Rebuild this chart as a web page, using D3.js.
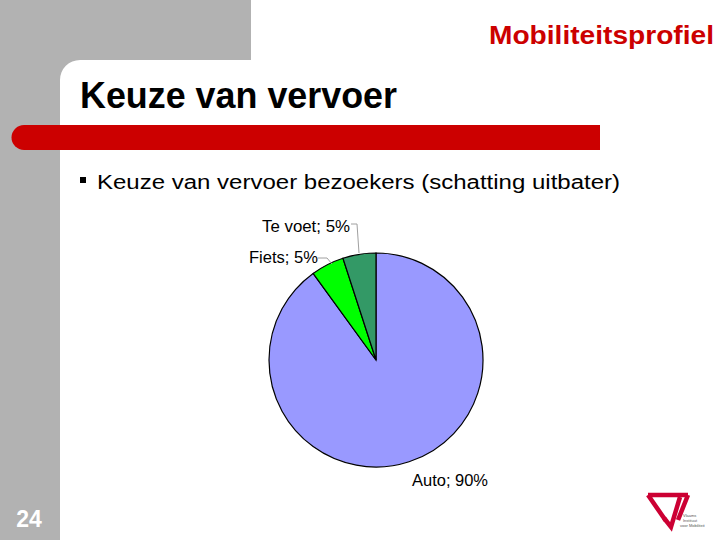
<!DOCTYPE html>
<html><head><meta charset="utf-8">
<script src="https://cdn.jsdelivr.net/npm/d3@7"></script>
<style>body{margin:0;background:#fff}svg{display:block}</style>
</head><body>
<svg id="c" width="720" height="540"></svg>
<script>
const categories = ["Auto", "Fiets", "Te voet"];
const values = [90, 5, 5];
const colors = ["#9999FF", "#00FF00", "#339966"];

const svg = d3.select("#c");
const F = "Arial, 'Liberation Sans', sans-serif";

// background decorations
svg.append("rect").attr("x",0).attr("y",0).attr("width",720).attr("height",540).attr("fill","#fff");
svg.append("rect").attr("x",0).attr("y",0).attr("width",251).attr("height",60).attr("fill","#B2B2B2");
svg.append("rect").attr("x",0).attr("y",0).attr("width",60).attr("height",540).attr("fill","#B2B2B2");
svg.append("path").attr("d","M60,60 L80,60 A20,20 0 0 0 60,80 Z").attr("fill","#B2B2B2");
// red bar
svg.append("path").attr("d","M24,125 L600,125 L600,150 L24,150 A12.5,12.5 0 0 1 24,125 Z").attr("fill","#CC0000");

svg.append("text").attr("x",489).attr("y",44)
  .attr("font-family",F).attr("font-weight","bold")
  .attr("font-size",25).attr("fill","#CC0000")
  .attr("textLength",225).attr("lengthAdjust","spacingAndGlyphs").text("Mobiliteitsprofiel");
svg.append("text").attr("x",80).attr("y",108)
  .attr("font-family",F).attr("font-weight","bold")
  .attr("font-size",36).attr("fill","#000")
  .attr("textLength",317).attr("lengthAdjust","spacingAndGlyphs").text("Keuze van vervoer");
svg.append("rect").attr("x",80).attr("y",177).attr("width",6).attr("height",6).attr("fill","#000");
svg.append("text").attr("x",97).attr("y",189).attr("font-family",F).attr("font-size",20).attr("fill","#000")
  .attr("textLength",523).attr("lengthAdjust","spacingAndGlyphs")
  .text("Keuze van vervoer bezoekers (schatting uitbater)");
svg.append("text").attr("x",29).attr("y",527).attr("text-anchor","middle").attr("font-family",F)
  .attr("font-weight","bold").attr("font-size",23).attr("fill","#fff").text("24");

// pie
const cx = 376, cy = 360, r = 107;
const pie = d3.pie().sort(null).value(d => d)(values);
const arc = d3.arc().innerRadius(0).outerRadius(r);
const g = svg.append("g").attr("transform",`translate(${cx},${cy})`);
g.selectAll("path").data(pie).join("path")
  .attr("d",arc).attr("fill",(d,i)=>colors[i]).attr("stroke","#000").attr("stroke-width",1.2);

// labels
const labelPos = [
  {x: 412, y: 486, w: 76, line: null},
  {x: 249, y: 263, w: 69, line: [[318,258],[327,258],[332,264]]},
  {x: 262, y: 232, w: 88, line: [[351,224],[357,224],[359,253]]}
];
categories.forEach((c,i)=>{
  const p = labelPos[i];
  svg.append("text").attr("x",p.x).attr("y",p.y).attr("font-family",F).attr("font-size",16)
    .attr("fill","#000").attr("textLength",p.w).attr("lengthAdjust","spacingAndGlyphs")
    .text(`${c}; ${values[i]}%`);
  if (p.line) svg.append("path").attr("d", d3.line()(p.line)).attr("fill","none")
    .attr("stroke","#A0A0A0").attr("stroke-width",1);
});

// logo
const lg = svg.append("g").attr("fill","none").attr("stroke","#CC0033").attr("stroke-width",4.5)
  .attr("stroke-linejoin","miter");
lg.append("path").attr("d","M648,495 L688,495 M648,495 L666,521");
lg.append("path").attr("d","M680,497 L671,527 L664,518");
lg.append("path").attr("d","M688,495 L678,520");
const tg = svg.append("g").attr("font-family",F).attr("font-size",4).attr("fill","#555");
tg.append("text").attr("x",683).attr("y",517).text("Vlaams");
tg.append("text").attr("x",683).attr("y",522).text("Instituut");
tg.append("text").attr("x",680).attr("y",527).text("voor Mobiliteit");
</script>
</body></html>
